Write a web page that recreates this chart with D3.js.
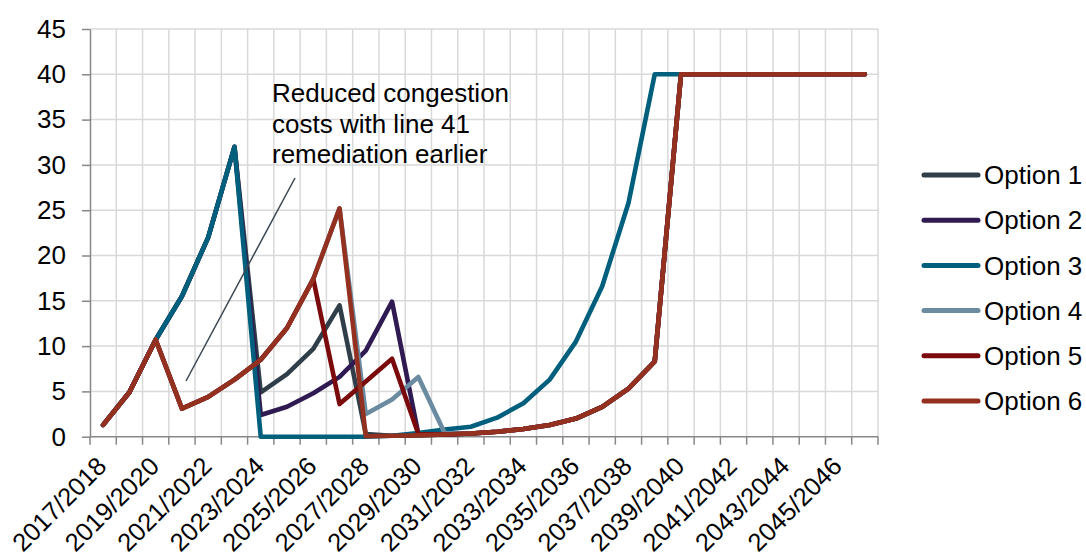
<!DOCTYPE html>
<html>
<head>
<meta charset="utf-8">
<script src="https://cdn.jsdelivr.net/npm/d3@7"></script>
<style>
  html, body { margin: 0; padding: 0; background: #ffffff; }
  svg text { font-family: "Liberation Sans", Arial, sans-serif; fill: #000; }
</style>
</head>
<body>
<svg id="chart" width="1086" height="558"></svg>
<script>
// Financial years on the category axis
const categories = [
  "2017/2018", "2018/2019", "2019/2020", "2020/2021", "2021/2022", "2022/2023",
  "2023/2024", "2024/2025", "2025/2026", "2026/2027", "2027/2028", "2028/2029",
  "2029/2030", "2030/2031", "2031/2032", "2032/2033", "2033/2034", "2034/2035",
  "2035/2036", "2036/2037", "2037/2038", "2038/2039", "2039/2040", "2040/2041",
  "2041/2042", "2042/2043", "2043/2044", "2044/2045", "2045/2046", "2046/2047"
];

// Congestion cost per option and year
const option1 = [1.3, 4.9, 10.7, 15.5, 22.0, 32.0, 4.9, 6.9, 9.7, 14.5, 0.3, 0.1, 0.15, 0.25, 0.35, 0.55, 0.85, 1.3, 2.0, 3.3, 5.3, 8.3, 40, 40, 40, 40, 40, 40, 40, 40];
const option2 = [1.3, 4.9, 10.7, 15.5, 22.0, 32.0, 2.4, 3.3, 4.8, 6.6, 9.5, 14.9, 0.3, 0.25, 0.35, 0.55, 0.85, 1.3, 2.0, 3.3, 5.3, 8.3, 40, 40, 40, 40, 40, 40, 40, 40];
const option3 = [1.3, 4.9, 10.7, 15.5, 22.0, 32.0, 0, 0, 0, 0, 0, 0.1, 0.4, 0.8, 1.1, 2.1, 3.7, 6.3, 10.5, 16.6, 25.8, 40, 40, 40, 40, 40, 40, 40, 40, 40];
const option4 = [1.3, 4.9, 10.7, 3.1, 4.4, 6.3, 8.5, 12.0, 17.4, 25.2, 2.5, 4.1, 6.6, 0.4, 0.35, 0.55, 0.85, 1.3, 2.0, 3.3, 5.3, 8.3, 40, 40, 40, 40, 40, 40, 40, 40];
const option5 = [1.3, 4.9, 10.7, 3.1, 4.4, 6.3, 8.5, 12.0, 17.4, 3.6, 6.1, 8.6, 0.3, 0.25, 0.35, 0.55, 0.85, 1.3, 2.0, 3.3, 5.3, 8.3, 40, 40, 40, 40, 40, 40, 40, 40];
const option6 = [1.3, 4.9, 10.7, 3.1, 4.4, 6.3, 8.5, 12.0, 17.4, 25.2, 0.05, 0.1, 0.15, 0.25, 0.35, 0.55, 0.85, 1.3, 2.0, 3.3, 5.3, 8.3, 40, 40, 40, 40, 40, 40, 40, 40];

const seriesNames = ["Option 1", "Option 2", "Option 3", "Option 4", "Option 5", "Option 6"];
const seriesColors = ["#2f3e48", "#2f1a52", "#005f7c", "#6b8ba1", "#7a0a0c", "#94301f"];
const yTicks = [0, 5, 10, 15, 20, 25, 30, 35, 40, 45];
const noteLines = ["Reduced congestion", "costs with line 41", "remediation earlier"];

const series = [option1, option2, option3, option4, option5, option6].map((values, i) => ({
  name: seriesNames[i], color: seriesColors[i], values
}));

const svg = d3.select("#chart");
const plot = { left: 90, right: 878, top: 29, bottom: 436.7 };
const fontSize = 26;
const xLabelSize = 25.5;
const gridColor = "#d9d9d9";
const axisColor = "#878787";

const x = d3.scaleBand().domain(categories).range([plot.left, plot.right]).padding(0);
const y = d3.scaleLinear().domain([0, 45]).range([plot.bottom, plot.top]);
const cx = c => x(c) + x.bandwidth() / 2;

// Gridlines
const grid = svg.append("g");
grid.selectAll("line.h").data(yTicks.filter(v => v > 0)).join("line")
  .attr("x1", plot.left).attr("x2", plot.right)
  .attr("y1", d => y(d)).attr("y2", d => y(d))
  .attr("stroke", gridColor).attr("stroke-width", 1.5);
const boundaries = categories.map(c => x(c)).slice(1).concat([plot.right]);
grid.selectAll("line.v").data(boundaries).join("line")
  .attr("x1", d => d).attr("x2", d => d)
  .attr("y1", plot.top).attr("y2", plot.bottom)
  .attr("stroke", gridColor).attr("stroke-width", 1.5);

// Y axis
const yAxis = svg.append("g")
  .attr("transform", `translate(${plot.left},0)`)
  .call(d3.axisLeft(y).tickValues(yTicks).tickSize(8).tickPadding(16).tickSizeOuter(0));
yAxis.select(".domain").attr("stroke", axisColor).attr("stroke-width", 1.5);
yAxis.selectAll(".tick line").attr("stroke", axisColor).attr("stroke-width", 1.5);
yAxis.selectAll(".tick text").attr("font-size", fontSize)
  .style("font-family", '"Liberation Sans", Arial, sans-serif').attr("fill", "#000");

// X axis: ticks at category boundaries, labels at every other category
const xAxis = svg.append("g");
xAxis.append("line")
  .attr("x1", plot.left).attr("x2", plot.right)
  .attr("y1", plot.bottom).attr("y2", plot.bottom)
  .attr("stroke", axisColor).attr("stroke-width", 1.5);
xAxis.selectAll("line.tick").data(categories.map(c => x(c)).concat([plot.right])).join("line")
  .attr("x1", d => d).attr("x2", d => d)
  .attr("y1", plot.bottom).attr("y2", plot.bottom + 8)
  .attr("stroke", axisColor).attr("stroke-width", 1.5);
xAxis.selectAll("text").data(categories.filter((c, i) => i % 2 === 0)).join("text")
  .attr("transform", d => `translate(${cx(d) + 5},${plot.bottom + 31}) rotate(-45)`)
  .attr("text-anchor", "end")
  .attr("font-size", xLabelSize)
  .text(d => d);

// Lines
const line = d3.line()
  .x((d, i) => cx(categories[i]))
  .y(d => y(d));
svg.append("g").selectAll("path").data(series).join("path")
  .attr("d", d => line(d.values))
  .attr("fill", "none")
  .attr("stroke", d => d.color)
  .attr("stroke-width", 4.6)
  .attr("stroke-linejoin", "round")
  .attr("stroke-linecap", "round");

// Annotation
svg.append("line")
  .attr("x1", 295).attr("y1", 178).attr("x2", 186).attr("y2", 381)
  .attr("stroke", "#3b4751").attr("stroke-width", 1.5);
svg.append("g").selectAll("text").data(noteLines).join("text")
  .attr("x", 272).attr("y", (d, i) => 101.7 + i * 30.8)
  .attr("font-size", fontSize)
  .text(d => d);

// Legend
const legend = svg.append("g").selectAll("g").data(series).join("g")
  .attr("transform", (d, i) => `translate(0,${175 + i * 45.2})`);
legend.append("line")
  .attr("x1", 924).attr("x2", 978).attr("y1", 0).attr("y2", 0)
  .attr("stroke", d => d.color).attr("stroke-width", 5)
  .attr("stroke-linecap", "round");
legend.append("text")
  .attr("x", 984).attr("y", 0).attr("dy", "0.35em")
  .attr("font-size", fontSize)
  .text(d => d.name);
</script>
</body>
</html>
